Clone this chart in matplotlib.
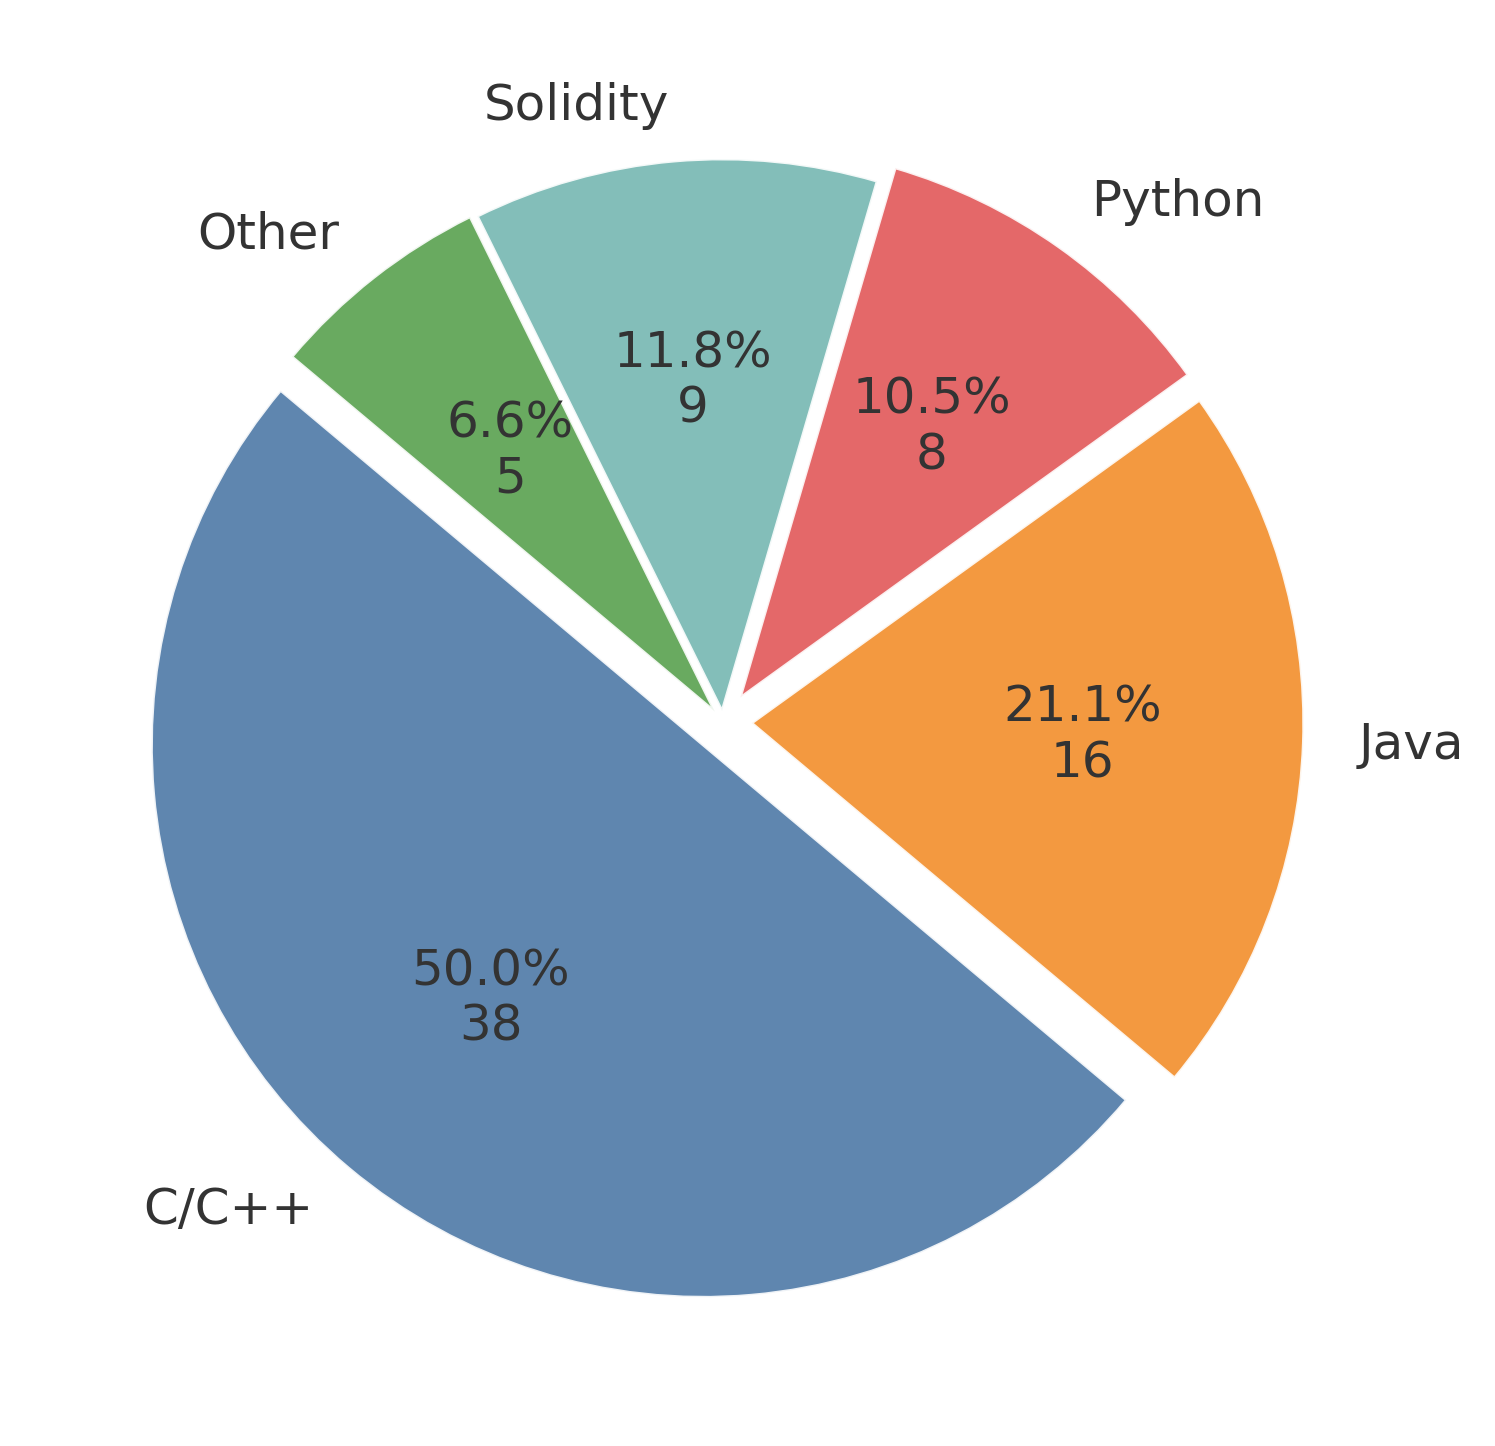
import matplotlib
matplotlib.use("Agg")
import matplotlib.pyplot as plt

languages = ["C/C++", "Java", "Python", "Solidity", "Other"]
counts = [38, 16, 8, 9, 5]
colors = ["#4e79a7", "#f28e2b", "#e15759", "#76b7b2", "#59a14f"]
explode = [0.055, 0.052, 0.054, 0.02, 0.024]

total = sum(counts)

def fmt(pct):
    return "%.1f%%\n%d" % (pct, round(pct * total / 100.0))

W, H = 1495, 1446
fig = plt.figure(figsize=(W / 100, H / 100), dpi=100)
side = 1380
ax = fig.add_axes([33 / W, 34 / H, side / W, side / H])

wedges, texts, autotexts = ax.pie(
    counts,
    labels=languages,
    colors=colors,
    explode=explode,
    startangle=140,
    autopct=fmt,
    pctdistance=0.6,
    labeldistance=1.1,
    wedgeprops=dict(edgecolor="white", linewidth=2, alpha=0.9),
    textprops=dict(fontsize=36, color="#333333"),
)
for t in texts + autotexts:
    t.set_fontsize(36)
    t.set_color("#333333")

fig.savefig("out.png", dpi=100)
